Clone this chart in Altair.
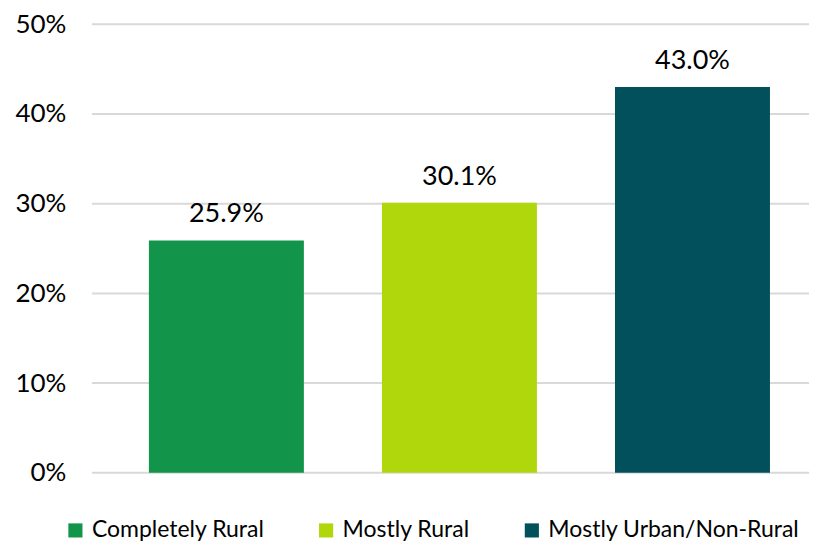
import altair as alt
import pandas as pd

categories = ["Completely Rural", "Mostly Rural", "Mostly Urban/Non-Rural"]
values = [0.259, 0.301, 0.430]
colors = ["#12954a", "#afd70b", "#03505d"]
tick_values = [0.0, 0.1, 0.2, 0.3, 0.4, 0.5]

df = pd.DataFrame({"category": categories, "value": values})
grid_df = pd.DataFrame({"v": tick_values})

FONT = "Lato"
yscale = alt.Scale(domain=[0, 0.5], nice=False)
yaxis = alt.Axis(values=tick_values, format=".0%", grid=False, domain=False, ticks=False,
                 labelFontSize=26, labelColor="#000000", labelPadding=44, title=None,
                 labelFont=FONT)
xscale = alt.Scale(domain=categories, paddingInner=0.335, paddingOuter=0.1675)

grid = alt.Chart(grid_df).mark_rule(color="#d9d9d9", strokeWidth=2).encode(
    y=alt.Y("v:Q", scale=yscale, axis=yaxis),
    x=alt.value(-18),
    x2=alt.value(707),
)

bars = alt.Chart(df).mark_bar().encode(
    x=alt.X("category:N", sort=categories, scale=xscale, axis=None),
    y=alt.Y("value:Q", scale=yscale, axis=yaxis),
    color=alt.Color(
        "category:N",
        scale=alt.Scale(domain=categories, range=colors),
        legend=alt.Legend(
            orient="none", legendX=-46, legendY=495, direction="horizontal",
            title=None, symbolType="square", symbolSize=200, symbolStrokeWidth=0,
            labelFontSize=23, labelFont=FONT, labelColor="#000000",
            columnPadding=50, labelOffset=5, labelLimit=400,
        ),
    ),
)

labels = alt.Chart(df).mark_text(fontSize=27, font=FONT, color="#000000",
                                 baseline="alphabetic", dy=-18).encode(
    x=alt.X("category:N", sort=categories, scale=xscale, axis=None),
    y=alt.Y("value:Q", scale=yscale, axis=yaxis),
    text=alt.Text("value:Q", format=".1%"),
)

chart = alt.layer(grid, bars, labels).properties(
    width=700, height=449,
    autosize=alt.AutoSizeParams(type="none"),
    padding={"left": 102, "top": 16, "right": 0, "bottom": 70},
).configure_view(stroke=None)

chart.save("out.html", embed_options={"renderer": "svg", "actions": False})
